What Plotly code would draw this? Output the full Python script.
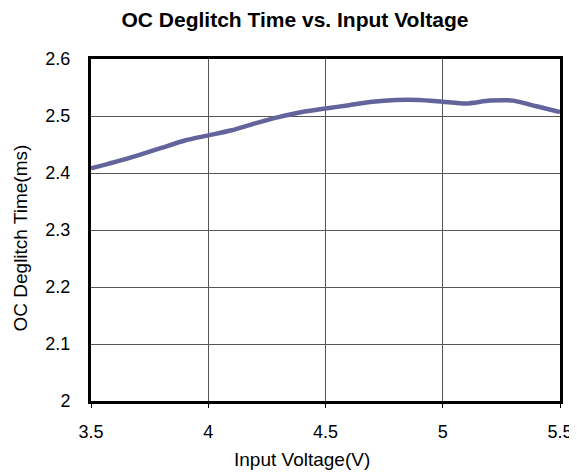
import plotly.graph_objects as go

voltage = [3.5, 3.6, 3.7, 3.8, 3.9, 4.0, 4.1, 4.2, 4.3, 4.4, 4.5, 4.6, 4.7, 4.8, 4.9, 5.0, 5.1, 5.2, 5.3, 5.4, 5.5]
deglitch_ms = [2.408, 2.419, 2.431, 2.444, 2.457, 2.466, 2.475, 2.487, 2.498, 2.507, 2.513, 2.519, 2.525, 2.528,
               2.528, 2.525, 2.522, 2.527, 2.527, 2.517, 2.507]
x_ticks = [3.5, 4, 4.5, 5, 5.5]
y_ticks = [2, 2.1, 2.2, 2.3, 2.4, 2.5, 2.6]
y_tick_text = ["2", "2.1", "2.2", "2.3", "2.4", "2.5", "2.6"]

font = "Liberation Sans, Arial, sans-serif"
W, H = 577, 473
OFF = 8  # page body margin of the html page
ML, MR, MT, MB = 91 - OFF, 17 + OFF, 59 - OFF, 72 + OFF
PW, PH = W - ML - MR, H - MT - MB

fig = go.Figure(go.Scatter(
    x=voltage, y=deglitch_ms, mode="lines",
    line=dict(color="#64649c", width=4.5, shape="spline", smoothing=0.6),
    hoverinfo="x+y",
))

fig.update_layout(
    width=W, height=H,
    paper_bgcolor="white", plot_bgcolor="white",
    margin=dict(l=ML, r=MR, t=MT, b=MB, autoexpand=False),
    showlegend=False,
    title=dict(text="<b>OC Deglitch Time vs. Input Voltage</b>", x=(295 - OFF) / W, xanchor="center",
               y=1 - (20 - OFF) / H, yanchor="middle", automargin=False,
               font=dict(family=font, size=21, color="black")),
    font=dict(family=font, size=18, color="black"),
    annotations=[
        dict(text="Input Voltage(V)", xref="paper", yref="paper", x=(301.5 - 91) / PW, y=-(459 - 401) / PH,
             xanchor="center", yanchor="middle", showarrow=False, font=dict(size=19)),
        dict(text="OC Deglitch Time(ms)", xref="paper", yref="paper", x=-(91 - 20) / PW, y=(401 - 238.5) / PH,
             xanchor="center", yanchor="middle", showarrow=False, textangle=-90, font=dict(size=19)),
    ],
)
fig.update_xaxes(
    range=[3.5, 5.5], tickvals=x_ticks, ticktext=[str(t) for t in x_ticks],
    showgrid=True, gridcolor="#555555", gridwidth=1,
    showline=True, linecolor="black", linewidth=3, mirror=True,
    ticks="outside", ticklen=4, tickcolor="black", tickwidth=1,
    ticklabelstandoff=8,
    zeroline=False, automargin=False,
    tickfont=dict(size=18),
)
fig.update_yaxes(
    range=[2, 2.6], tickvals=y_ticks, ticktext=y_tick_text,
    showgrid=True, gridcolor="#555555", gridwidth=1,
    showline=True, linecolor="black", linewidth=3, mirror=True,
    ticks="", ticklabelstandoff=14,
    zeroline=False, automargin=False,
    tickfont=dict(size=18),
)

fig.write_html("out.html")
